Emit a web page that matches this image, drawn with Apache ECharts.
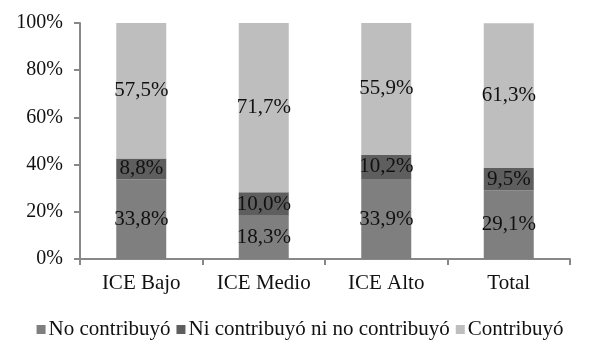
<!DOCTYPE html>
<html><head><meta charset="utf-8">
<script src="https://cdn.jsdelivr.net/npm/echarts@6/dist/echarts.min.js"></script>
<style>html,body{margin:0;padding:0;background:#fff}#c{width:600px;height:362px}</style>
</head><body><div id="c"></div>
<script>
var categories = ['ICE Bajo', 'ICE Medio', 'ICE Alto', 'Total'];
var noContribuyo = [33.8, 18.3, 33.9, 29.1];
var niContribuyo = [8.8, 10.0, 10.2, 9.5];
var contribuyo = [57.5, 71.7, 55.9, 61.3];
var seriesNames = ['No contribuyó', 'Ni contribuyó ni no contribuyó', 'Contribuyó'];
var yTicks = [0, 20, 40, 60, 80, 100];

var font = 'Liberation Serif, Times New Roman, serif';
function fmt(v){ return v.toFixed(1).replace('.', ',') + '%'; }
function mk(name, data, color){
  return {
    name: name, type: 'bar', stack: 's', data: data, barWidth: 50,
    itemStyle: {color: color},
    label: {show: true, position: 'inside', color: '#111', fontFamily: font, fontSize: 21,
      formatter: function(p){ return fmt(p.value); }}
  };
}
var chart = echarts.init(document.getElementById('c'), null, {renderer: 'canvas'});
chart.setOption({
  animation: false,
  grid: {left: 80, right: 30, top: 23, bottom: 103},
  legend: {
    top: 314, left: 'center', itemWidth: 9, itemHeight: 9, itemGap: 6,
    icon: 'rect',
    textStyle: {fontFamily: font, fontSize: 21, color: '#111', padding: [0, 0, 0, -2]},
    data: seriesNames
  },
  xAxis: {
    type: 'category', data: categories,
    axisLine: {lineStyle: {color: '#888', width: 2}},
    axisTick: {show: true, length: 6, lineStyle: {color: '#888', width: 2}},
    axisLabel: {fontFamily: font, fontSize: 21, color: '#111', margin: 14}
  },
  yAxis: {
    type: 'value', min: 0, max: 100, interval: 20,
    axisLine: {show: true, lineStyle: {color: '#888', width: 2}},
    axisTick: {show: true, length: 6, lineStyle: {color: '#888', width: 2}},
    splitLine: {show: false},
    axisLabel: {fontFamily: font, fontSize: 20, color: '#111', margin: 17,
      formatter: function(v){ return yTicks.indexOf(v) >= 0 ? v + '%' : ''; }}
  },
  series: [
    mk(seriesNames[0], noContribuyo, '#7f7f7f'),
    mk(seriesNames[1], niContribuyo, '#5e5e5e'),
    mk(seriesNames[2], contribuyo, '#bebebe')
  ]
});
</script></body></html>
